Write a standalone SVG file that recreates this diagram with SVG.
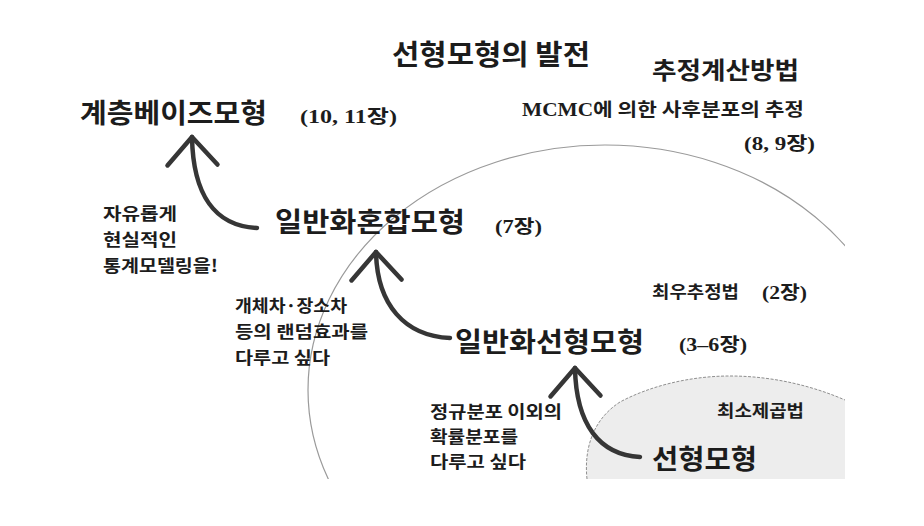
<svg xmlns="http://www.w3.org/2000/svg" width="924" height="526" viewBox="0 0 924 526">
<style>
  .kr { font-family: "Noto Sans CJK KR", "Noto Sans", sans-serif; fill: #1c1c1c; }
  .big { font-size: 27px; font-weight: 700; }
  .mid { font-size: 24px; font-weight: 700; }
  .sm { font-size: 17px; font-weight: 700; }
  .ch { font-family: "Liberation Serif", "Noto Sans CJK KR", serif; font-size: 18.5px; font-weight: 700; fill: #1c1c1c; }
  .shaft { fill: none; stroke: #363636; stroke-width: 4.5; stroke-linecap: round; marker-end: url(#chev); }
</style>
<defs>
  <clipPath id="page"><rect x="0" y="0" width="845" height="479"/></clipPath>
  <marker id="chev" markerUnits="userSpaceOnUse" viewBox="-34 -30 40 60" refX="0" refY="0" markerWidth="40" markerHeight="60" orient="auto" overflow="visible">
    <path d="M-28,-25 L0,0 L-28,25" fill="none" stroke="#363636" stroke-width="4.5" stroke-linecap="round" stroke-linejoin="round"/>
  </marker>
</defs>
<rect width="924" height="526" fill="#ffffff"/>

<g id="regions" clip-path="url(#page)">
  <ellipse id="region-ml" cx="605" cy="390" rx="297" ry="245" fill="none" stroke="#9a9a9a" stroke-width="1.2"/>
  <g id="region-ls">
    <path d="M587,479 C584,450 592,420 620,402 C650,386 690,376 730,376 C775,376 815,387 845,400 L845,479 Z" fill="#ededed"/>
    <path d="M587,479 C584,450 592,420 620,402 C650,386 690,376 730,376 C775,376 815,387 845,400" fill="none" stroke="#8f8f8f" stroke-width="1" stroke-dasharray="3 1.5"/>
  </g>
</g>

<g id="title">
  <text class="kr" x="392" y="65" font-size="28" font-weight="700" textLength="198" lengthAdjust="spacingAndGlyphs">선형모형의 발전</text>
</g>

<g id="estimation-header">
  <text class="kr mid" x="652" y="79" textLength="147" lengthAdjust="spacingAndGlyphs">추정계산방법</text>
</g>

<g id="mcmc">
  <text class="kr" x="522" y="116" font-size="18" font-weight="700" textLength="282" lengthAdjust="spacingAndGlyphs"><tspan font-family="Liberation Serif, serif">MCMC</tspan>에 의한 사후분포의 추정</text>
  <text class="ch" x="744" y="150" textLength="71" lengthAdjust="spacingAndGlyphs">(8, 9장)</text>
</g>

<g id="node-hierarchical">
  <text class="kr big" x="80" y="123" textLength="187" lengthAdjust="spacingAndGlyphs">계층베이즈모형</text>
  <text class="ch" x="300" y="123" textLength="97" lengthAdjust="spacingAndGlyphs">(10, 11장)</text>
</g>

<g id="note-realistic">
  <text class="kr sm" x="103" y="220" textLength="74" lengthAdjust="spacingAndGlyphs">자유롭게</text>
  <text class="kr sm" x="103" y="246" textLength="74" lengthAdjust="spacingAndGlyphs">현실적인</text>
  <text class="kr sm" x="103" y="272" textLength="115" lengthAdjust="spacingAndGlyphs">통계모델링을!</text>
</g>

<g id="node-glmm">
  <text class="kr big" x="275" y="232" textLength="190" lengthAdjust="spacingAndGlyphs">일반화혼합모형</text>
  <text class="ch" x="495" y="233" textLength="47" lengthAdjust="spacingAndGlyphs">(7장)</text>
</g>

<g id="note-random">
  <text class="kr sm" x="235" y="312" textLength="112" lengthAdjust="spacingAndGlyphs">개체차·장소차</text>
  <text class="kr sm" x="235" y="338" textLength="133" lengthAdjust="spacingAndGlyphs">등의 랜덤효과를</text>
  <text class="kr sm" x="235" y="364" textLength="95" lengthAdjust="spacingAndGlyphs">다루고 싶다</text>
</g>

<g id="mle">
  <text class="kr sm" x="652" y="298" textLength="87" lengthAdjust="spacingAndGlyphs">최우추정법</text>
  <text class="ch" x="762" y="299" textLength="45" lengthAdjust="spacingAndGlyphs">(2장)</text>
</g>

<g id="node-glm">
  <text class="kr big" x="455" y="352" textLength="189" lengthAdjust="spacingAndGlyphs">일반화선형모형</text>
  <text class="ch" x="679" y="351" textLength="68" lengthAdjust="spacingAndGlyphs">(3–6장)</text>
</g>

<g id="note-distribution">
  <text class="kr sm" x="430" y="418" textLength="132" lengthAdjust="spacingAndGlyphs">정규분포 이외의</text>
  <text class="kr sm" x="430" y="443" textLength="88" lengthAdjust="spacingAndGlyphs">확률분포를</text>
  <text class="kr sm" x="430" y="468" textLength="96" lengthAdjust="spacingAndGlyphs">다루고 싶다</text>
</g>

<g id="least-squares">
  <text class="kr sm" x="717" y="417" textLength="87" lengthAdjust="spacingAndGlyphs">최소제곱법</text>
</g>

<g id="node-lm">
  <text class="kr big" x="652" y="469" textLength="105" lengthAdjust="spacingAndGlyphs">선형모형</text>
</g>

<g id="connectors">
  <path class="shaft" d="M257,228 C215,226 193,195 192,137"/>
  <path class="shaft" d="M450,338 C405,336 377,305 376,252"/>
  <path class="shaft" d="M640,457 C600,455 576,425 575,368"/>
</g>
</svg>
